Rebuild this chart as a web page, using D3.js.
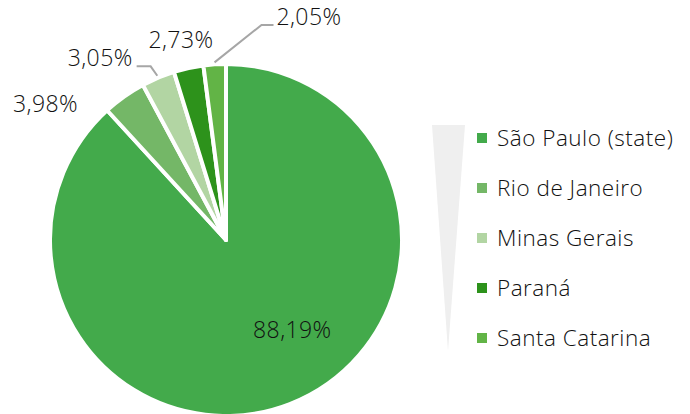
<!DOCTYPE html>
<html>
<head>
<meta charset="utf-8">
<script src="https://cdn.jsdelivr.net/npm/d3@7"></script>
<style>
  body { margin: 0; background: #fff; }
  svg text { font-family: "Open Sans", Lato, sans-serif; font-weight: 300; fill: #111; }
</style>
</head>
<body>
<div id="chart"></div>
<script>
// data
const states = ["São Paulo (state)", "Rio de Janeiro", "Minas Gerais", "Paraná", "Santa Catarina"];
const shares = [88.19, 3.98, 3.05, 2.73, 2.05];
const labels = ["88,19%", "3,98%", "3,05%", "2,73%", "2,05%"];
const colors = ["#43aa4b", "#74b767", "#b2d5a3", "#2d921b", "#62b446"];

const width = 690, height = 414;
const cx = 226, cy = 240, R = 176;

const svg = d3.select("#chart").append("svg")
  .attr("width", width)
  .attr("height", height);

const pie = d3.pie().sort(null).value(d => d.v);
const arcs = pie(shares.map((v, i) => ({ v, name: states[i], label: labels[i], color: colors[i] })));

const arc = d3.arc().innerRadius(0).outerRadius(R);

const g = svg.append("g").attr("transform", `translate(${cx},${cy})`);

g.selectAll("path.slice")
  .data(arcs)
  .enter().append("path")
  .attr("class", "slice")
  .attr("d", arc)
  .attr("fill", d => d.data.color)
  .attr("stroke", "#fff")
  .attr("stroke-width", 4)
  .attr("stroke-linejoin", "round");

// label placement: polar (deg clockwise from top, radius), leader line side
const labelLayout = [
  { a: 143.7, r: 112 },
  { a: 307, r: 226 },
  { a: 325.3, r: 221, leader: "left" },
  { a: 347.3, r: 205 },
  { a: 20.4, r: 238, leader: "right" }
];

const polar = (deg, r) => {
  const t = deg * Math.PI / 180;
  return [r * Math.sin(t), -r * Math.cos(t)];
};

arcs.forEach((d, i) => {
  const L = labelLayout[i];
  const [x, y] = polar(L.a, L.r);
  const t = g.append("text")
    .attr("x", x)
    .attr("y", y)
    .attr("dy", "0.35em")
    .attr("text-anchor", "middle")
    .style("font-size", "23px")
    .style("letter-spacing", "0.4px")
    .text(d.data.label);

  if (L.leader) {
    const bb = t.node().getBBox();
    const mid = (d.startAngle + d.endAngle) / 2 * 180 / Math.PI;
    const start = polar(mid, R + 2);
    const ly = y + 8;
    let pts;
    if (L.leader === "left") {
      const x0 = bb.x + bb.width + 4;
      pts = [[x0, ly], [x0 + 14, ly], start];
    } else {
      const x0 = bb.x - 3;
      pts = [[x0, ly], [x0 - 12, ly], start];
    }
    g.append("path")
      .attr("d", d3.line()(pts))
      .attr("fill", "none")
      .attr("stroke", "#a6a6a6")
      .attr("stroke-width", 2);
  }
});

// legend
const legend = svg.append("g").attr("transform", "translate(432,125)");

legend.append("path")
  .attr("d", "M0,0 L33,0 L16,226 Z")
  .attr("fill", "#efefef");

const rowY = d3.scalePoint().domain(states).range([13, 213]);

const rows = legend.selectAll("g.row")
  .data(states)
  .enter().append("g")
  .attr("class", "row")
  .attr("transform", d => `translate(45,${rowY(d)})`);

rows.append("rect")
  .attr("x", 0)
  .attr("y", -5)
  .attr("width", 10)
  .attr("height", 10)
  .attr("fill", (d, i) => colors[i]);

rows.append("text")
  .attr("x", 20)
  .attr("dy", "0.36em")
  .style("font-size", "22.5px")
  .style("letter-spacing", "0.5px")
  .text(d => d);
</script>
</body>
</html>
